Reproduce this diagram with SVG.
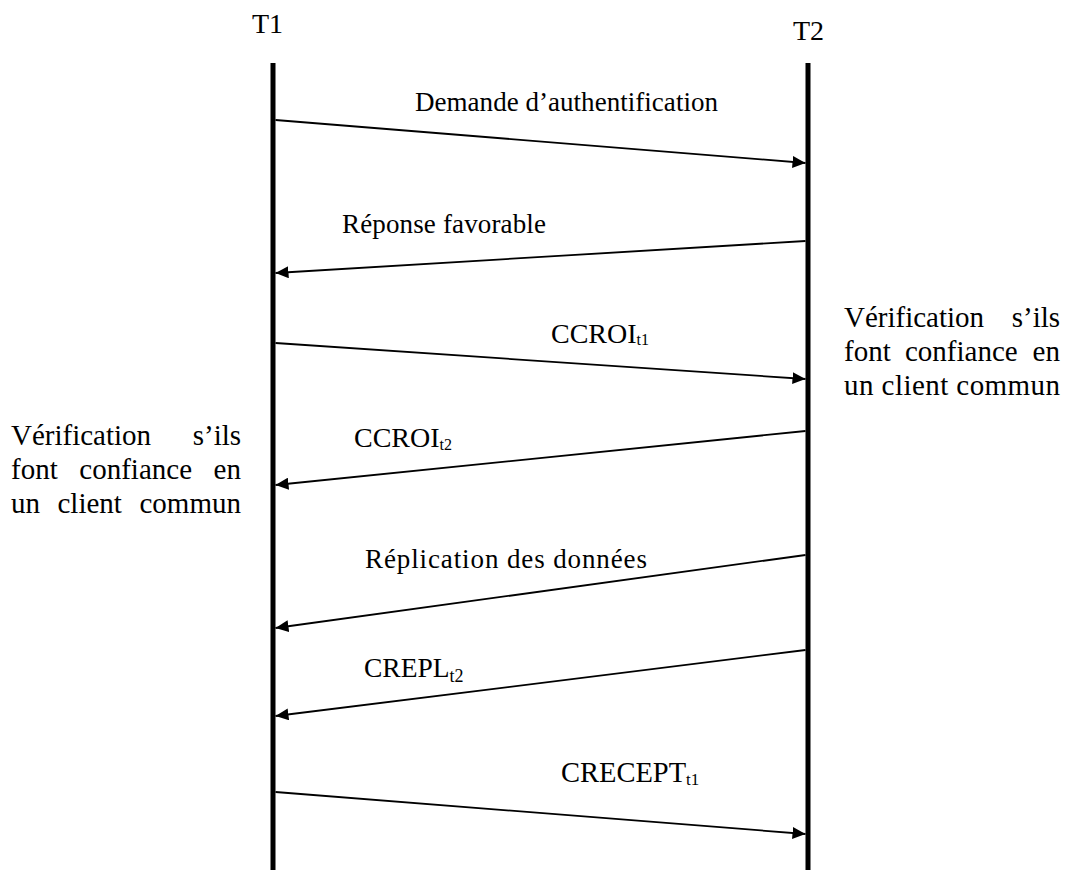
<svg xmlns="http://www.w3.org/2000/svg" width="1065" height="870" viewBox="0 0 1065 870">
<style>
.life{stroke:#000;stroke-width:5;fill:none}
.msg{stroke:#000;stroke-width:1.8;fill:none;marker-end:url(#ah)}
.ser{font-family:"Liberation Serif","Times New Roman",serif;fill:#000}
.sub{font-family:"Liberation Serif","Times New Roman",serif}
</style>
<defs>
<marker id="ah" markerUnits="userSpaceOnUse" markerWidth="14" markerHeight="12" refX="13" refY="6" orient="auto">
<path d="M0,0 L13,6 L0,12 z" fill="#000"/>
</marker>
</defs>
<rect width="1065" height="870" fill="#fff"/>
<g id="T1">
<text class="ser" x="252" y="33" font-size="28">T1</text>
<line class="life" x1="273" y1="63" x2="273" y2="870"/>
</g>
<g id="T2">
<text class="ser" x="793" y="40" font-size="28">T2</text>
<line class="life" x1="808" y1="63" x2="808" y2="870"/>
</g>
<g id="note-T2">
<text class="ser" font-size="29"><tspan x="844" y="327">Vérification</tspan><tspan x="1011.7" y="327">s’ils</tspan><tspan x="844" y="361">font</tspan><tspan x="905" y="361">confiance</tspan><tspan x="1032.6" y="361">en</tspan><tspan x="844" y="395" textLength="216">un client commun</tspan></text>
</g>
<g id="note-T1">
<text class="ser" font-size="29"><tspan x="11" y="445">Vérification</tspan><tspan x="192.7" y="445">s’ils</tspan><tspan x="11" y="479">font</tspan><tspan x="79.3" y="479">confiance</tspan><tspan x="213.6" y="479">en</tspan><tspan x="11" y="513">un</tspan><tspan x="57.5" y="513">client</tspan><tspan x="139.5" y="513">commun</tspan></text>
</g>
<g id="connectors">
<line class="msg" x1="275.5" y1="120" x2="805.5" y2="163"/>
<line class="msg" x1="805.5" y1="241" x2="275.5" y2="273"/>
<line class="msg" x1="275.5" y1="343" x2="805.5" y2="379"/>
<line class="msg" x1="805.5" y1="431" x2="275.5" y2="485"/>
<line class="msg" x1="805.5" y1="555" x2="275.5" y2="628"/>
<line class="msg" x1="805.5" y1="650" x2="275.5" y2="716"/>
<line class="msg" x1="275.5" y1="792" x2="805.5" y2="834"/>
</g>
<g id="labels">
<text class="ser" x="415" y="111" font-size="27" textLength="303">Demande d’authentification</text>
<text class="ser" x="342" y="233" font-size="27" textLength="204">Réponse favorable</text>
<text class="ser" x="551" y="343" font-size="28">CCROI<tspan class="sub" font-size="16" dy="2">t1</tspan></text>
<text class="ser" x="354" y="447" font-size="28">CCROI<tspan class="sub" font-size="16" dy="3">t2</tspan></text>
<text class="ser" x="365" y="568" font-size="27" textLength="282">Réplication des données</text>
<text class="ser" x="364" y="677" font-size="27.5">CREPL<tspan class="sub" font-size="18" dy="5">t2</tspan></text>
<text class="ser" x="561" y="782" font-size="28.5">CRECEPT<tspan class="sub" font-size="17" dy="3">t1</tspan></text>
</g>
</svg>
